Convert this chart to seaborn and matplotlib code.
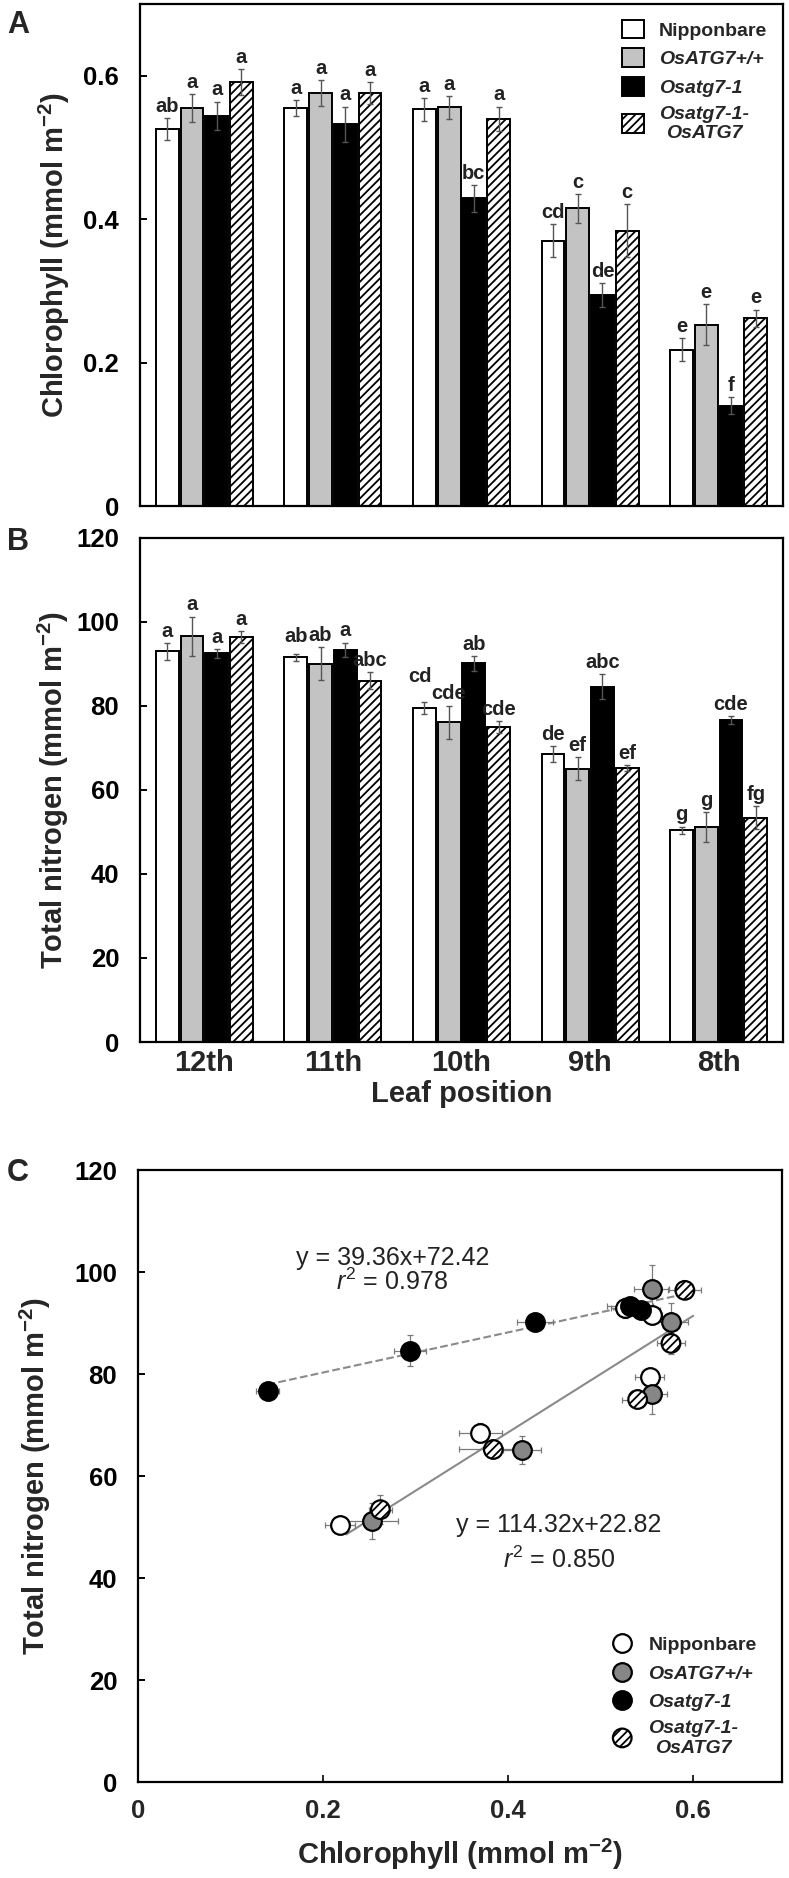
import numpy as np
import pandas as pd
import seaborn as sns
import matplotlib.pyplot as plt
from matplotlib.patches import Patch
from matplotlib.container import BarContainer

leaves = ['12th', '11th', '10th', '9th', '8th']
genotypes = ['Nipponbare', 'OsATG7+/+', 'Osatg7-1', 'Osatg7-1-OsATG7']
legend_labels = ['Nipponbare', 'OsATG7+/+', 'Osatg7-1', 'Osatg7-1-\nOsATG7']

# chlorophyll (mmol m-2), one list per genotype, leaves 12th..8th
chl_nip = [0.526, 0.555, 0.553, 0.370, 0.218]
chl_wt = [0.555, 0.576, 0.556, 0.415, 0.253]
chl_mut = [0.544, 0.532, 0.429, 0.294, 0.140]
chl_comp = [0.591, 0.576, 0.540, 0.384, 0.262]
chl_se_nip = [0.015, 0.011, 0.016, 0.023, 0.016]
chl_se_wt = [0.019, 0.018, 0.016, 0.020, 0.028]
chl_se_mut = [0.020, 0.025, 0.019, 0.017, 0.012]
chl_se_comp = [0.018, 0.015, 0.017, 0.037, 0.012]
chl_let_nip = ['ab', 'a', 'a', 'cd', 'e']
chl_let_wt = ['a', 'a', 'a', 'c', 'e']
chl_let_mut = ['a', 'a', 'bc', 'de', 'f']
chl_let_comp = ['a', 'a', 'a', 'c', 'e']

# total nitrogen (mmol m-2)
nit_nip = [93.0, 91.6, 79.5, 68.5, 50.4]
nit_wt = [96.6, 90.1, 76.1, 65.1, 51.2]
nit_mut = [92.5, 93.4, 90.2, 84.6, 76.7]
nit_comp = [96.4, 86.0, 75.0, 65.2, 53.4]
nit_se_nip = [2.0, 0.8, 1.5, 1.9, 0.9]
nit_se_wt = [4.7, 3.9, 4.0, 2.8, 3.6]
nit_se_mut = [1.1, 1.7, 1.8, 3.0, 1.0]
nit_se_comp = [1.4, 2.0, 1.4, 0.7, 2.8]
nit_let_nip = ['a', 'ab', 'cd', 'de', 'g']
nit_let_wt = ['a', 'ab', 'cde', 'ef', 'g']
nit_let_mut = ['a', 'a', 'ab', 'abc', 'cde']
nit_let_comp = ['a', 'abc', 'cde', 'ef', 'fg']

# regression lines: Osatg7-1 alone, and the other three genotypes together
reg_slope = [39.36, 114.32]
reg_intercept = [72.42, 22.82]
reg_r2 = [0.978, 0.850]
reg_xrange = [[0.14, 0.58], [0.225, 0.60]]

bar_colors = ['white', '#c3c3c3', 'black', 'white']
dot_colors = ['white', '#868686', 'black', 'white']
hatches = [None, None, None, '////']

# letters that sit apart from the bar centre in the original (points)
nudge = {('nit', 'Nipponbare', '10th'): (-3, 10), ('nit', 'Nipponbare', '11th'): (0, 4)}

df = pd.DataFrame({
    'leaf': leaves * 4,
    'genotype': np.repeat(genotypes, len(leaves)),
    'chl': chl_nip + chl_wt + chl_mut + chl_comp,
    'chl_se': chl_se_nip + chl_se_wt + chl_se_mut + chl_se_comp,
    'chl_let': chl_let_nip + chl_let_wt + chl_let_mut + chl_let_comp,
    'nit': nit_nip + nit_wt + nit_mut + nit_comp,
    'nit_se': nit_se_nip + nit_se_wt + nit_se_mut + nit_se_comp,
    'nit_let': nit_let_nip + nit_let_wt + nit_let_mut + nit_let_comp,
})

sns.set_theme(style='ticks')
plt.rcParams['font.family'] = ['Liberation Sans', 'DejaVu Sans']
plt.rcParams['mathtext.fontset'] = 'custom'
plt.rcParams['mathtext.rm'] = 'Liberation Sans'
plt.rcParams['mathtext.it'] = 'Liberation Sans:italic'
plt.rcParams['mathtext.bf'] = 'Liberation Sans:bold'
plt.rcParams['hatch.linewidth'] = 1.3
plt.rcParams['hatch.color'] = 'black'

W, H = 789, 1878
fig = plt.figure(figsize=(W / 100, H / 100), dpi=100)
axA = fig.add_axes([140 / W, 1 - 506 / H, 643 / W, 502 / H])
axB = fig.add_axes([140 / W, 1 - 1042 / H, 643 / W, 504 / H])
axC = fig.add_axes([138 / W, 1 - 1782 / H, 644 / W, 612 / H])

UNIT = 'm$^{\\mathbf{-2}}$)'
TICK = 18.5
LABEL = 21


def frame(ax):
    for s in ax.spines.values():
        s.set_visible(True)
        s.set_color('black')
        s.set_linewidth(1.6)
    ax.tick_params(axis='y', direction='in', length=5, width=1.4,
                   labelsize=TICK, pad=15, colors='black')
    for t in ax.get_yticklabels() + ax.get_xticklabels():
        t.set_fontweight('bold')


def bars(ax, col):
    sns.barplot(data=df, x='leaf', y=col, hue='genotype', order=leaves,
                hue_order=genotypes, palette=bar_colors, saturation=1,
                edgecolor='black', linewidth=1.4, errorbar=None,
                width=0.77, gap=0.08, legend=False, ax=ax)
    conts = [c for c in ax.containers if isinstance(c, BarContainer)]
    for k, cont in enumerate(conts):
        sub = df[df.genotype == genotypes[k]]
        for patch, (_, r) in zip(cont.patches, sub.iterrows()):
            if hatches[k]:
                patch.set_hatch(hatches[k])
            x = patch.get_x() + patch.get_width() / 2
            y = patch.get_height()
            ax.errorbar(x, y, yerr=r[col + '_se'], fmt='none', ecolor='#555555',
                        elinewidth=1, capsize=2.5, capthick=1, zorder=3)
            dx, dy = nudge.get((col, r.genotype, r.leaf), (0, 0))
            ax.annotate(r[col + '_let'], (x, y + r[col + '_se']),
                        xytext=(dx, 1.5 + dy), textcoords='offset points',
                        ha='center', va='bottom', fontsize=14.5,
                        fontweight='bold', color='#222222')
    ax.set_xlim(-0.5, len(leaves) - 0.5)
    ax.tick_params(axis='x', length=0)


def legend(ax, handles, loc, pad):
    leg = ax.legend(handles, legend_labels, loc=loc, frameon=False,
                    prop={'size': 14, 'weight': 'bold'}, handlelength=1.1,
                    handleheight=1.1, labelspacing=0.45, handletextpad=0.8,
                    borderaxespad=pad, scatterpoints=1)
    for i, t in enumerate(leg.get_texts()):
        if i > 0:
            t.set_style('italic')
        t.set_multialignment('center')


# panel A
bars(axA, 'chl')
axA.set_ylim(0, 0.7)
axA.set_yticks([0, 0.2, 0.4, 0.6])
axA.set_yticklabels(['0', '0.2', '0.4', '0.6'])
axA.tick_params(labelbottom=False)
axA.set_xlabel('')
axA.set_ylabel('Chlorophyll (mmol ' + UNIT, fontsize=LABEL, fontweight='bold', labelpad=8)
frame(axA)
legend(axA, [Patch(facecolor=c, edgecolor='black', hatch=h, linewidth=1.4)
             for c, h in zip(bar_colors, hatches)], 'upper right', 0.4)

# panel B
bars(axB, 'nit')
axB.set_ylim(0, 120)
axB.set_yticks(range(0, 121, 20))
axB.set_ylabel('Total nitrogen (mmol ' + UNIT, fontsize=LABEL, fontweight='bold', labelpad=4)
axB.set_xlabel('Leaf position', fontsize=LABEL, fontweight='bold', labelpad=2)
axB.tick_params(axis='x', labelsize=21, pad=5)
frame(axB)

# panel C
for k, g in enumerate(genotypes):
    sub = df[df.genotype == g]
    axC.errorbar(sub.chl, sub.nit, xerr=sub.chl_se, yerr=sub.nit_se, fmt='none',
                 ecolor='#7a7a7a', elinewidth=0.9, capsize=2, capthick=0.9, zorder=2)

for i, ls in enumerate(['--', '-']):
    xs = np.array(reg_xrange[i])
    ys = reg_slope[i] * xs + reg_intercept[i]
    sns.lineplot(x=xs, y=ys, color='#8a8a8a', linestyle=ls, linewidth=1.5,
                 ax=axC, zorder=1, **({'dashes': (5, 3)} if ls == '--' else {}))

dots = []
for k, g in enumerate(genotypes):
    sub = df[df.genotype == g]
    sns.scatterplot(data=sub, x='chl', y='nit', color=dot_colors[k],
                    edgecolor='black', linewidth=1.6, s=180, zorder=4,
                    legend=False, ax=axC)
    coll = axC.collections[-1]
    if hatches[k]:
        coll.set_hatch(hatches[k])
    dots.append(coll)

axC.set_xlim(0, 0.696)
axC.set_ylim(0, 120)
axC.set_xticks([0, 0.2, 0.4, 0.6])
axC.set_xticklabels(['0', '0.2', '0.4', '0.6'])
axC.set_yticks(range(0, 121, 20))
axC.tick_params(axis='x', direction='in', length=5, width=1.4, labelsize=TICK, pad=12)
axC.set_xlabel('Chlorophyll (mmol ' + UNIT, fontsize=LABEL, fontweight='bold', labelpad=10)
axC.set_ylabel('Total nitrogen (mmol ' + UNIT, fontsize=LABEL, fontweight='bold', labelpad=15)
frame(axC)

eq_pos = [(0.275, 102.8, 98.0), (0.455, 50.4, 43.5)]
for i, (x, y1, y2) in enumerate(eq_pos):
    axC.text(x, y1, f'y = {reg_slope[i]:.2f}x+{reg_intercept[i]:.2f}', ha='center',
             va='center', fontsize=18, color='#222222')
    axC.text(x, y2, f'$\\mathit{{r}}^2$ = {reg_r2[i]:.3f}', ha='center',
             va='center', fontsize=18, color='#222222')

legend(axC, dots, 'lower right', 0.9)

for lab, y in [('A', 25), ('B', 542), ('C', 1173)]:
    fig.text(18 / W, 1 - y / H, lab, ha='center', va='center', fontsize=22,
             fontweight='bold')

fig.savefig('out.png', dpi=100)
